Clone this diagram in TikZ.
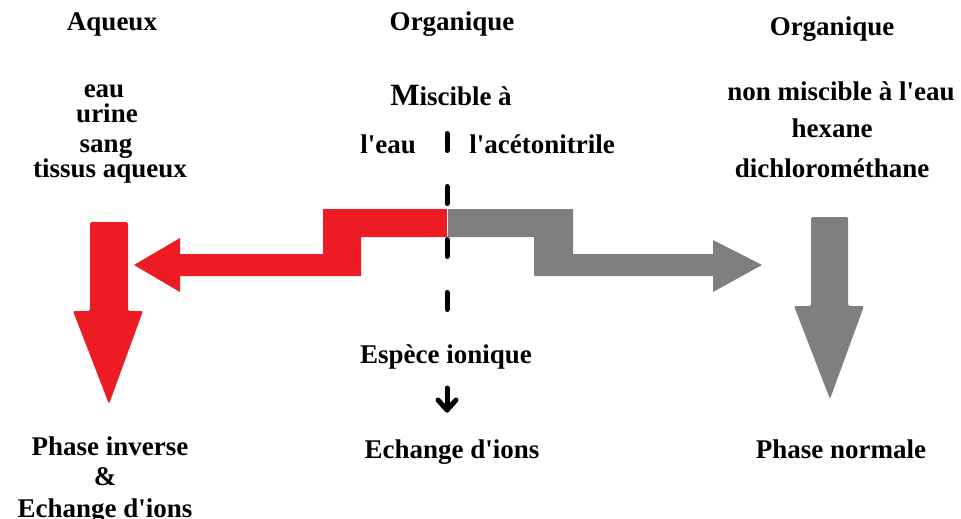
\documentclass[tikz,border=0pt]{standalone}
\usepackage{fontspec}
\setmainfont{Liberation Serif}[Ligatures=TeXOff]
\definecolor{pred}{HTML}{ED1C24}
\definecolor{pgray}{HTML}{7F7F7F}
\begin{document}
\begin{tikzpicture}[x=1pt,y=-1pt,
  lbl/.style={inner sep=0pt,anchor=base,font=\fontsize{27}{30}\selectfont\bfseries},
  redshape/.style={fill=pred,draw=none},
  grayshape/.style={fill=pgray,draw=none}]
\useasboundingbox[fill=white] (0,0) rectangle (961,519);
% titles
\node[lbl] (aq) at (112,31) {Aqueux};
\node[lbl] (orgc) at (452,31) {Organique};
\node[lbl] (orgr) at (832,36) {Organique};
% left list
\node[lbl] (eau) at (104,97) {eau};
\node[lbl] (urine) at (107,122) {urine};
\node[lbl] (sang) at (106,152) {sang};
\node[lbl] (tissus) at (110,177) {tissus aqueux};
% center
\node[lbl] (misc) at (451,105) {{\fontsize{31}{31}\selectfont M}iscible à};
\node[lbl] (leau) at (388,153) {l'eau};
\node[lbl] (acet) at (542,153) {l'acétonitrile};
% right list
\node[lbl] (nonm) at (841,100) {non miscible à l'eau};
\node[lbl] (hex) at (832,137) {hexane};
\node[lbl] (dcm) at (832,177) {dichlorométhane};
% bottom texts
\node[lbl] (esp) at (446,363) {Espèce ionique};
\node[lbl] (ech) at (452,458) {Echange d'ions};
\node[lbl] (phi) at (110,455) {Phase inverse};
\node[lbl] (amp) at (105,485) {\&};
\node[lbl] (ech2) at (105,517) {Echange d'ions};
\node[lbl] (phn) at (841,458) {Phase normale};
% red bent arrow
\fill[redshape] (447,209) -- (323,209) -- (323,254) -- (180,254) -- (180,238)
  -- (134,265) -- (180,292) -- (180,276) -- (361,276) -- (361,237) -- (447,237) -- cycle;
% gray bent arrow
\fill[grayshape] (447,209) -- (573,209) -- (573,254) -- (713,254) -- (713,240)
  -- (762,265) -- (713,292) -- (713,276) -- (534,276) -- (534,237) -- (447,237) -- cycle;
\draw[white,line width=1pt] (447,209) -- (447,237);
% red down arrow
\fill[redshape,rounded corners=1.5pt] (90,222) -- (128,222) -- (128,311) -- (143,311)
  -- (109,404) -- (73,311) -- (90,311) -- cycle;
% gray down arrow
\fill[grayshape,rounded corners=1.5pt] (811,217) -- (848,217) -- (848,306) -- (864,306)
  -- (830,399) -- (794,306) -- (811,306) -- cycle;
% dashed divider
\draw[line width=5pt,line cap=round,dash pattern=on 17pt off 36pt] (447,133.5) -- (447,312);
% small arrow
\coordinate (sa1) at (447,388);
\coordinate (sa2) at (447,410);
\draw[line width=5pt,line cap=round] (sa1) -- (sa2);
\draw[line width=5pt,line cap=round,line join=round] (438,400) -- (sa2) -- (456,400);
\end{tikzpicture}
\end{document}
